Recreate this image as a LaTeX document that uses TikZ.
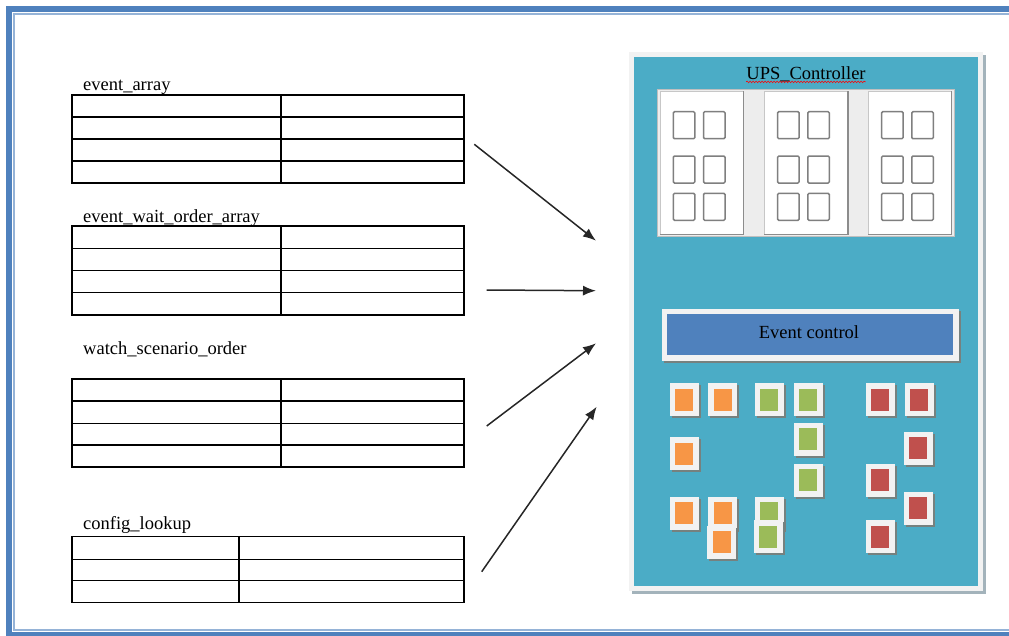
\documentclass[tikz,border=0pt]{standalone}
\usepackage{fontspec}
\setmainfont{Liberation Serif}
\usetikzlibrary{arrows.meta,decorations.pathmorphing,calc}

\definecolor{framedark}{HTML}{4F81BD}
\definecolor{framelight}{HTML}{95B3D7}
\definecolor{panelteal}{HTML}{4BACC6}
\definecolor{ctrlblue}{HTML}{4F81BD}
\definecolor{tileorange}{HTML}{F79646}
\definecolor{tilegreen}{HTML}{9BBB59}
\definecolor{tilered}{HTML}{C0504D}
\definecolor{rim}{HTML}{F2F2F2}
\definecolor{rimshadow}{HTML}{76817F}
\definecolor{panelshadow}{HTML}{A3B3BB}
\definecolor{baygray}{HTML}{EDEDED}
\definecolor{wingray}{HTML}{7F7F7F}

\tikzset{
  label text/.style={anchor=base west, inner sep=0pt, text=black},
  tablebox/.style={draw=black, line width=1.5pt, inner sep=0pt},
  tablerule/.style={draw=black, line width=1.5pt},
  flow/.style={draw=black!85, line width=1.5pt, -{Latex[length=13pt,width=10pt]}},
  panel/.style={rectangle, inner sep=0pt, fill=panelteal, draw=rim, line width=5pt,
    preaction={draw=panelshadow, fill=panelshadow, line width=5pt,
      transform canvas={shift={(3pt,-3pt)}}}},
  ctrlbar/.style={rectangle, inner sep=0pt, fill=ctrlblue, draw=rim, line width=5.5pt,
    minimum width=291.8pt, minimum height=46.2pt,
    preaction={draw=rimshadow, fill=rimshadow, line width=5.5pt,
      transform canvas={shift={(2pt,-2pt)}}}},
  tile/.style={rectangle, inner sep=0pt, fill=#1, draw=rim, line width=5.5pt,
    minimum width=23.5pt, minimum height=27.2pt,
    preaction={draw=rimshadow, fill=rimshadow, line width=5.5pt,
      transform canvas={shift={(2pt,-2pt)}}}},
  bay/.style={rectangle, inner sep=0pt, fill=baygray, draw=black!25, line width=0.8pt,
    minimum width=296.6pt, minimum height=147.4pt},
  door/.style={rectangle, inner sep=0pt, fill=white, draw=black!22, line width=0.8pt,
    minimum width=83.3pt, minimum height=142.6pt},
  dooredge/.style={draw=black!45, line width=1.3pt},
  win/.style={draw=wingray, line width=1.5pt, fill=white, rounded corners=1.2pt},
}

\begin{document}
\begin{tikzpicture}[x=1pt, y=-1pt, font=\fontsize{18.5}{22}\selectfont]
\useasboundingbox (0,0) rectangle (1009,635);
\clip (0,0) rectangle (1009,635);

% page frame
\draw[framedark, line width=6pt] (8.5,9.3) rectangle (1040,634.7);
\draw[framelight, line width=1.5pt] (13.8,13.8) rectangle (1040,630.2);

% ---- tables on the left ----
% event_array
\node[label text] (l1) at (83,90) {event\_array};
\node[tablebox, minimum width=392pt, minimum height=88pt] (t1) at (268,139) {};
\foreach \r in {117,139,161} \draw[tablerule] (72,\r) -- (464,\r);
\draw[tablerule] (281,95) -- (281,183);

% event_wait_order_array
\node[label text] (l2) at (83,222) {event\_wait\_order\_array};
\node[tablebox, minimum width=392pt, minimum height=89pt] (t2) at (268,270.5) {};
\foreach \r in {248.7,270.7,292.5} \draw[tablerule] (72,\r) -- (464,\r);
\draw[tablerule] (281,226) -- (281,315);

% watch_scenario_order
\node[label text] (l3) at (83,354) {watch\_scenario\_order};
\node[tablebox, minimum width=392pt, minimum height=88pt] (t3) at (268,423) {};
\foreach \r in {401,423.3,445} \draw[tablerule] (72,\r) -- (464,\r);
\draw[tablerule] (281,379) -- (281,467);

% config_lookup
\node[label text] (l4) at (83,529) {config\_lookup};
\node[tablebox, minimum width=392pt, minimum height=66pt] (t4) at (268,569.7) {};
\foreach \r in {559.3,580.7} \draw[tablerule] (72,\r) -- (464,\r);
\draw[tablerule] (239,536.7) -- (239,602.7);

% ---- controller panel ----
\node[panel, minimum width=349pt, minimum height=534pt] (ups) at (806,321.5) {};
\node[anchor=base, inner sep=0pt] (title) at (806,79.3) {UPS\_Controller};
\draw[red, line width=0.6pt, decorate, decoration={snake, amplitude=0.8pt, segment length=3pt}]
  ([yshift=-2.6pt]title.base west) -- ([yshift=-2.6pt]title.base east);

% cabinet bay with three doors
\node[bay] (bay) at (806,163) {};
\foreach \n/\cx in {d1/701.7, d2/806, d3/909.7} {
  \node[door] (\n) at (\cx,163) {};
  \draw[dooredge] (\n.north east) -- (\n.south east) -- (\n.south west);
}
\foreach \L in {660,764.3,868.3} {
  \foreach \cx in {13.3,43.5} {
    \foreach \ry in {111.7,156,193.3} {
      \draw[win] (\L+\cx,\ry) rectangle ++(21.5,27);
    }
  }
}

% event control bar
\node[ctrlbar] (ctrl) at (810.3,334.8) {};
\node[anchor=base, inner sep=0pt] (ctrltext) at (809,338.3) {Event control};

% status tiles
\node[tile=tileorange] (o1) at (684,399.7) {};
\node[tile=tileorange] (o2) at (722.7,399.7) {};
\node[tile=tileorange] (o3) at (684,453.7) {};
\node[tile=tileorange] (o4) at (684,513.3) {};
\node[tile=tileorange] (o5) at (722.7,513.3) {};
\node[tile=tileorange] (o6) at (721.7,542.3) {};

\node[tile=tilegreen] (g1) at (769,399.7) {};
\node[tile=tilegreen] (g2) at (808,399.7) {};
\node[tile=tilegreen] (g3) at (808,439.3) {};
\node[tile=tilegreen] (g4) at (808,480.3) {};
\node[tile=tilegreen] (g5) at (769,513.3) {};
\node[tile=tilegreen] (g6) at (768,536.7) {};

\node[tile=tilered] (r1) at (880.3,399.7) {};
\node[tile=tilered] (r2) at (919,399.7) {};
\node[tile=tilered] (r3) at (918,448.3) {};
\node[tile=tilered] (r4) at (880.3,480.3) {};
\node[tile=tilered] (r5) at (918,508.3) {};
\node[tile=tilered] (r6) at (880.3,536.7) {};

% ---- connectors from the tables into the panel ----
\coordinate (a1s) at (474.3,144.3);
\coordinate (a1e) at (596,240.7);
\coordinate (a2s) at (486.7,290);
\coordinate (a2e) at (596,290.7);
\coordinate (a3s) at (486.7,426);
\coordinate (a3e) at (596,343.3);
\coordinate (a4s) at (481.7,571.7);
\coordinate (a4e) at (596.7,406.7);
\draw[flow] (a1s) -- (a1e);
\draw[flow] (a2s) -- (a2e);
\draw[flow] (a3s) -- (a3e);
\draw[flow] (a4s) -- (a4e);
\end{tikzpicture}
\end{document}
